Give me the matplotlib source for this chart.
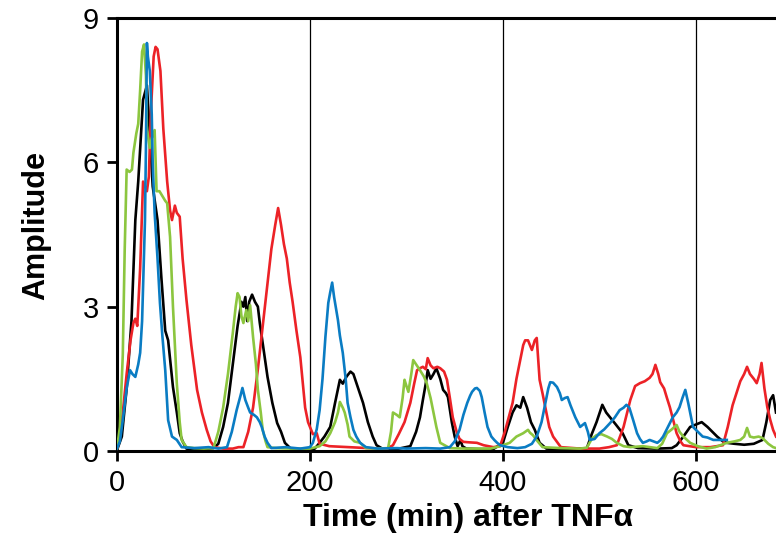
import matplotlib
matplotlib.use("Agg")
import matplotlib.pyplot as plt

# =========================
# DATA
# =========================
black_t = [0, 5, 10, 15, 19, 22, 27, 31, 34, 37, 42, 46, 50, 53, 58, 62, 65, 68, 72, 80, 90,
           100, 105, 110, 115, 120, 125, 129, 131, 133, 135, 137, 140, 143, 146, 148, 152, 156,
           161, 166, 170, 174, 180, 190, 200, 205, 210, 215, 221, 226, 231, 234, 238, 242, 245,
           250, 255, 260, 265, 269, 275, 290, 304, 310, 314, 317, 320, 322, 325, 328, 331, 335,
           338, 341, 343, 347, 350, 353, 356, 358, 362, 375, 390, 400, 405, 410, 414, 418, 421,
           425, 429, 433, 438, 445, 460, 475, 487, 492, 497, 503, 507, 511, 517, 524, 530, 540,
           560, 575, 580, 587, 594, 600, 606, 612, 617, 622, 628, 632, 640, 650, 660, 669, 673,
           677, 680, 683]
black_v = [0.02, 0.3, 1.3, 2.7, 4.8, 5.6, 7.3, 7.6, 6.6, 5.5, 4.8, 3.6, 2.5, 2.3, 1.33, 0.8, 0.37,
           0.2, 0.05, 0.03, 0.04, 0.06, 0.15, 0.5, 1.0, 1.8, 2.6, 3.1, 3.0, 3.2, 2.7, 3.1, 3.25,
           3.1, 3.0, 2.66, 2.1, 1.54, 1.0, 0.58, 0.4, 0.17, 0.05, 0.03, 0.03, 0.05, 0.17, 0.3, 0.5,
           1.0, 1.48, 1.4, 1.55, 1.65, 1.6, 1.3, 1.0, 0.6, 0.3, 0.12, 0.05, 0.04, 0.1, 0.4, 0.7,
           1.06, 1.4, 1.68, 1.5, 1.6, 1.72, 1.5, 1.27, 1.2, 1.12, 0.6, 0.3, 0.1, 0.23, 0.1, 0.05,
           0.04, 0.04, 0.17, 0.5, 0.8, 0.95, 0.9, 1.12, 0.9, 0.6, 0.44, 0.17, 0.05, 0.04, 0.04,
           0.06, 0.35, 0.6, 0.96, 0.8, 0.7, 0.55, 0.37, 0.12, 0.06, 0.05, 0.06, 0.12, 0.3, 0.5,
           0.55, 0.6, 0.5, 0.4, 0.3, 0.2, 0.17, 0.15, 0.13, 0.15, 0.23, 0.6, 1.06, 1.16, 0.8]

red_t = [0, 3, 6, 10, 14, 17, 19, 21, 24, 27, 29, 31, 33, 35, 38, 40, 42, 45, 48, 52, 55, 57, 60,
         62, 65, 68, 72, 77, 83, 88, 93, 97, 101, 110, 120, 126, 131, 136, 141, 146, 151, 155,
         160, 164, 167, 170, 173, 176, 179, 182, 186, 190, 195, 198, 200, 203, 207, 210, 220,
         240, 260, 280, 286, 292, 298, 304, 308, 311, 314, 317, 320, 322, 325, 328, 332, 335,
         339, 342, 345, 348, 352, 355, 359, 365, 373, 380, 390, 397, 402, 406, 410, 414, 418,
         421, 423, 426, 430, 433, 435, 438, 441, 445, 448, 452, 460, 480, 500, 510, 518, 525,
         532, 537, 542, 547, 552, 555, 558, 561, 563, 567, 570, 573, 577, 580, 584, 587, 600,
         615, 628, 633, 638, 642, 646, 650, 653, 656, 660, 663, 666, 668, 671, 674, 677, 680,
         683]
red_v = [0.05, 0.3, 0.8, 1.6, 2.3, 2.66, 2.75, 2.6, 3.8, 5.6, 5.5, 5.4, 5.7, 7.0, 8.2, 8.4, 8.35,
         7.9, 6.7, 5.6, 5.0, 4.8, 5.1, 4.95, 4.87, 4.0, 3.14, 2.2, 1.27, 0.8, 0.44, 0.2, 0.08,
         0.05, 0.05, 0.08, 0.08, 0.4, 0.9, 1.7, 2.6, 3.3, 4.2, 4.7, 5.05, 4.7, 4.3, 4.0, 3.5,
         3.1, 2.5, 1.95, 0.9, 0.6, 0.5, 0.35, 0.37, 0.15, 0.1, 0.08, 0.06, 0.05, 0.12, 0.35,
         0.6, 1.0, 1.4, 1.68, 1.72, 1.75, 1.7, 1.93, 1.78, 1.72, 1.75, 1.72, 1.65, 1.48, 1.1,
         0.7, 0.4, 0.25, 0.19, 0.18, 0.17, 0.12, 0.08, 0.1, 0.4, 0.7, 1.0, 1.5, 1.9, 2.2, 2.3,
         2.3, 2.1, 2.3, 2.35, 1.48, 1.2, 0.8, 0.5, 0.3, 0.08, 0.05, 0.05, 0.08, 0.12, 0.5, 1.06,
         1.35, 1.41, 1.45, 1.52, 1.6, 1.79, 1.6, 1.43, 1.3, 1.1, 0.91, 0.6, 0.37, 0.2, 0.12,
         0.08, 0.08, 0.12, 0.5, 0.95, 1.2, 1.45, 1.6, 1.75, 1.6, 1.5, 1.41, 1.6, 1.83, 1.3,
         0.91, 0.65, 0.44, 0.3]

green_t = [0, 3, 6, 8, 10, 13, 15.5, 17, 20, 22, 24, 26, 28, 30, 31, 34, 36, 39, 41, 44, 47, 50,
           52, 55, 58, 62, 65, 67, 72, 80, 90, 100, 105, 110, 115, 120, 123, 125, 127, 129, 131,
           134, 136, 138, 141, 144, 146, 149, 151, 154, 156, 165, 180, 200, 210, 216, 221, 226,
           229, 231, 234, 236, 239, 241, 246, 252, 258, 270, 281, 284, 286, 290, 293, 296, 298,
           300, 302, 305, 307, 310, 314, 318, 321, 325, 328, 331, 335, 345, 360, 375, 387, 397,
           407, 414, 421, 426, 428, 431, 436, 441, 460, 480, 487, 492, 497, 502, 508, 513, 518,
           525, 532, 545, 560, 565, 570, 575, 580, 583, 587, 594, 602, 611, 620, 632, 640, 646,
           650, 653, 656, 660, 665, 669, 675, 680, 683]
green_v = [0.05, 0.5, 2.0, 4.2, 5.85, 5.8, 5.85, 6.2, 6.6, 6.8, 7.5, 8.3, 8.45, 7.8, 6.67, 6.3,
           6.5, 6.67, 5.4, 5.4, 5.3, 5.2, 5.15, 4.45, 3.0, 1.4, 0.6, 0.23, 0.08, 0.06, 0.05, 0.06,
           0.4, 0.9, 1.6, 2.45, 3.0, 3.28, 3.2, 2.8, 2.66, 2.93, 2.7, 3.03, 2.37, 1.8, 1.27, 0.8,
           0.44, 0.2, 0.08, 0.06, 0.05, 0.05, 0.1, 0.2, 0.37, 0.6, 0.8, 1.02, 0.9, 0.8, 0.55, 0.3,
           0.2, 0.17, 0.06, 0.05, 0.06, 0.4, 0.8, 0.75, 0.7, 1.1, 1.48, 1.35, 1.23, 1.6, 1.89,
           1.8, 1.68, 1.55, 1.41, 1.1, 0.8, 0.5, 0.17, 0.06, 0.05, 0.05, 0.05, 0.1, 0.17, 0.3,
           0.37, 0.44, 0.38, 0.33, 0.2, 0.08, 0.06, 0.05, 0.07, 0.25, 0.33, 0.35, 0.3, 0.25, 0.17,
           0.1, 0.08, 0.1, 0.06, 0.15, 0.37, 0.45, 0.54, 0.4, 0.3, 0.17, 0.1, 0.05, 0.08, 0.17,
           0.2, 0.23, 0.3, 0.48, 0.3, 0.28, 0.3, 0.27, 0.15, 0.08, 0.06]

blue_t = [0, 3, 6, 10, 13.5, 16, 19, 22, 24, 26, 27, 29, 30, 31, 32, 34, 36, 37, 39, 42, 44.5,
          47, 50, 53, 57, 62, 67, 80, 95, 105, 114, 119, 124, 128, 130, 133, 136, 138, 142, 145,
          148, 150, 153, 156, 160, 175, 190, 200, 203, 207, 210, 213, 216, 219, 221, 223, 225,
          226, 229, 231, 234, 237, 239, 242, 245, 248, 252, 258, 270, 290, 300, 320, 335, 345,
          350, 355, 359, 363, 366, 368, 371, 373, 376, 378, 381, 384, 388, 391, 394, 397, 405,
          415, 423, 430, 435, 440, 444, 447, 449, 452, 456, 459, 461, 464, 467, 470, 475, 480,
          485, 488, 490, 495, 500, 505, 511, 516, 521, 525, 528, 531, 535, 539, 542, 545, 549,
          552, 556, 560, 563, 566, 571, 576, 580, 583, 586, 589, 592, 595, 597, 602, 607, 612,
          618, 625, 632]
blue_v = [0.05, 0.2, 0.64, 1.3, 1.68, 1.6, 1.54, 1.8, 2.04, 2.7, 3.4, 4.8, 6.3, 8.48, 8.2, 7.9,
          7.0, 6.0, 4.95, 4.0, 3.08, 2.4, 1.68, 0.64, 0.3, 0.23, 0.08, 0.06, 0.08, 0.05, 0.08,
          0.4, 0.85, 1.15, 1.31, 1.06, 0.9, 0.8, 0.75, 0.7, 0.6, 0.5, 0.3, 0.17, 0.06, 0.08,
          0.05, 0.08, 0.17, 0.45, 0.85, 1.5, 2.37, 3.08, 3.3, 3.5, 3.2, 3.08, 2.72, 2.4, 2.04,
          1.5, 1.0, 0.7, 0.44, 0.3, 0.17, 0.08, 0.05, 0.06, 0.05, 0.06, 0.05, 0.08, 0.2, 0.44,
          0.75, 1.0, 1.15, 1.23, 1.3, 1.31, 1.25, 1.12, 0.8, 0.5, 0.3, 0.23, 0.17, 0.12, 0.08,
          0.06, 0.08, 0.15, 0.3, 0.6, 1.0, 1.3, 1.43, 1.42, 1.33, 1.2, 1.06, 1.1, 1.12, 0.95,
          0.7, 0.5, 0.58, 0.4, 0.23, 0.25, 0.37, 0.45, 0.58, 0.7, 0.85, 0.9, 0.96, 0.9, 0.64,
          0.37, 0.25, 0.17, 0.2, 0.23, 0.2, 0.17, 0.22, 0.3, 0.5, 0.7, 0.8, 0.91, 1.1, 1.27,
          1.0, 0.7, 0.5, 0.4, 0.3, 0.28, 0.23, 0.23, 0.23]

x_ticks = [0, 200, 400, 600]
y_ticks = [0, 3, 6, 9]
divider_times = [200, 400, 600]

# =========================
# PLOT
# =========================
plt.rcParams["font.family"] = ["Liberation Sans", "DejaVu Sans"]

fig = plt.figure(figsize=(7.76, 5.38), dpi=100)
ax = fig.add_axes([117 / 776, 1 - 451 / 538, 1 - 117 / 776, (451 - 18) / 538])

for t in divider_times:
    ax.axvline(t, color="black", linewidth=0.9, zorder=1)

lw = 1.9
ax.plot(black_t, black_v, color="black", linewidth=lw, zorder=2)
ax.plot(red_t, red_v, color="#ec2227", linewidth=lw, zorder=3)
ax.plot(green_t, green_v, color="#8cc63f", linewidth=lw, zorder=4)
ax.plot(blue_t, blue_v, color="#0a7cc3", linewidth=lw, zorder=5)

ax.set_xlim(0, 683)
ax.set_ylim(0, 9)
ax.set_xticks(x_ticks)
ax.set_yticks(y_ticks)
ax.tick_params(direction="out", length=7, width=2, labelsize=21, pad=6)

ax.spines["right"].set_visible(False)
for s in ["left", "bottom", "top"]:
    ax.spines[s].set_linewidth(2.2)

ax.set_ylabel("Amplitude", fontsize=22, fontweight="bold")
ax.set_xlabel("Time (min) after TNF\u03b1", fontsize=23, fontweight="bold")
ax.yaxis.set_label_coords(-0.10, 0.52)
ax.xaxis.set_label_coords(0.532, -0.12)

fig.savefig("out.png", dpi=100)
